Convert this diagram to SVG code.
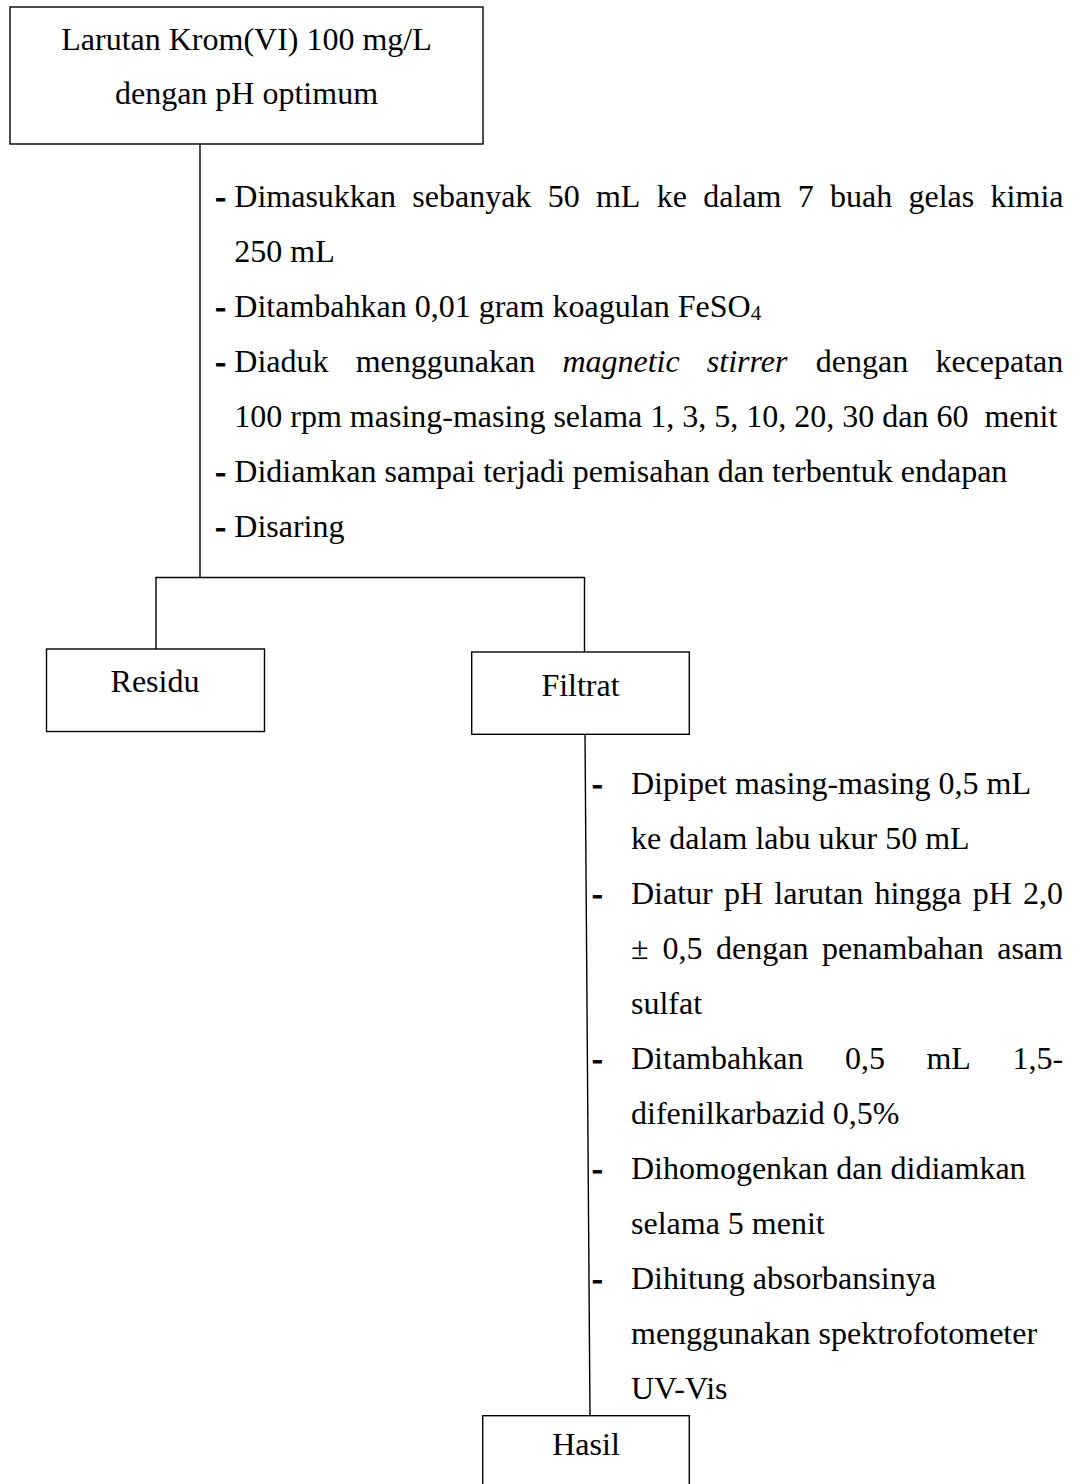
<svg xmlns="http://www.w3.org/2000/svg" width="1075" height="1484" viewBox="0 0 1075 1484">
<style>
  text { font-family: "Liberation Serif", "Times New Roman", serif; font-size: 32px; fill: #000; }
  .c { text-anchor: middle; }
  .b { font-weight: bold; stroke: #000; stroke-width: 0.8; }
  .i { font-style: italic; }
  .box { fill: #fff; stroke: #000; stroke-width: 1.4; }
  .ln { fill: none; stroke: #000; stroke-width: 1.4; }
</style>
<rect width="1075" height="1484" fill="#fff"/>

<g id="connectors">
  <line class="ln" x1="200" y1="144" x2="200" y2="578"/>
  <line class="ln" x1="155.5" y1="577.5" x2="584.5" y2="577.5" stroke-width="1.8"/>
  <line class="ln" x1="156" y1="577" x2="156" y2="649"/>
  <line class="ln" x1="584.5" y1="577" x2="584.5" y2="652"/>
  <line class="ln" x1="585" y1="734" x2="590" y2="1416"/>
</g>

<g id="node-top">
  <rect class="box" x="10" y="7" width="473" height="137"/>
  <text class="c" x="246.5" y="50">Larutan Krom(VI) 100 mg/L</text>
  <text class="c" x="246.5" y="103.5">dengan pH optimum</text>
</g>

<g id="steps-1">
  <text class="b" x="215.3" y="206.5">-</text>
  <text y="206.5"><tspan x="234.3">Dimasukkan</tspan><tspan x="412.3">sebanyak</tspan><tspan x="547.7">50</tspan><tspan x="595.9">mL</tspan><tspan x="656.7">ke</tspan><tspan x="703.2">dalam</tspan><tspan x="797.7">7</tspan><tspan x="830">buah</tspan><tspan x="908.5">gelas</tspan><tspan x="990.6">kimia</tspan></text>
  <text x="234.3" y="261.5">250 mL</text>
  <text class="b" x="215.3" y="317">-</text>
  <text x="234.3" y="317">Ditambahkan 0,01 gram koagulan FeSO<tspan font-size="21" dy="3">4</tspan></text>
  <text class="b" x="215.3" y="372">-</text>
  <text y="372"><tspan x="234.3">Diaduk</tspan><tspan x="355.7">menggunakan</tspan><tspan x="562.4" class="i">magnetic</tspan><tspan x="706.8" class="i">stirrer</tspan><tspan x="815.8">dengan</tspan><tspan x="935.4">kecepatan</tspan></text>
  <text x="234.3" y="427" xml:space="preserve">100 rpm masing-masing selama 1, 3, 5, 10, 20, 30 dan 60  menit</text>
  <text class="b" x="215.3" y="482">-</text>
  <text x="234.3" y="482">Didiamkan sampai terjadi pemisahan dan terbentuk endapan</text>
  <text class="b" x="215.3" y="537">-</text>
  <text x="234.3" y="537">Disaring</text>
</g>

<g id="node-residu">
  <rect class="box" x="46.5" y="649" width="218" height="82.5"/>
  <text class="c" x="155" y="691.7">Residu</text>
</g>

<g id="node-filtrat">
  <rect class="box" x="471.7" y="652" width="217.6" height="82.3"/>
  <text class="c" x="580.5" y="696">Filtrat</text>
</g>

<g id="steps-2">
  <text class="b" x="592" y="794">-</text>
  <text x="631" y="794">Dipipet masing-masing 0,5 mL</text>
  <text x="631" y="849">ke dalam labu ukur 50 mL</text>
  <text class="b" x="592" y="904">-</text>
  <text y="904"><tspan x="631">Diatur</tspan><tspan x="724">pH</tspan><tspan x="774.3">larutan</tspan><tspan x="874.4">hingga</tspan><tspan x="972.7">pH</tspan><tspan x="1023">2,0</tspan></text>
  <text y="959"><tspan x="631">±</tspan><tspan x="662.6">0,5</tspan><tspan x="716">dengan</tspan><tspan x="822">penambahan</tspan><tspan x="997.2">asam</tspan></text>
  <text x="631" y="1014">sulfat</text>
  <text class="b" x="592" y="1069">-</text>
  <text y="1069"><tspan x="631">Ditambahkan</tspan><tspan x="844.9">0,5</tspan><tspan x="926.4">mL</tspan><tspan x="1012.4">1,5-</tspan></text>
  <text x="631" y="1124">difenilkarbazid 0,5%</text>
  <text class="b" x="592" y="1179">-</text>
  <text x="631" y="1179">Dihomogenkan dan didiamkan</text>
  <text x="631" y="1234">selama 5 menit</text>
  <text class="b" x="592" y="1289">-</text>
  <text x="631" y="1289">Dihitung absorbansinya</text>
  <text x="631" y="1344">menggunakan spektrofotometer</text>
  <text x="631" y="1399">UV-Vis</text>
</g>

<g id="node-hasil">
  <rect class="box" x="482.7" y="1415.7" width="206.6" height="90"/>
  <text class="c" x="586" y="1455">Hasil</text>
</g>
</svg>
